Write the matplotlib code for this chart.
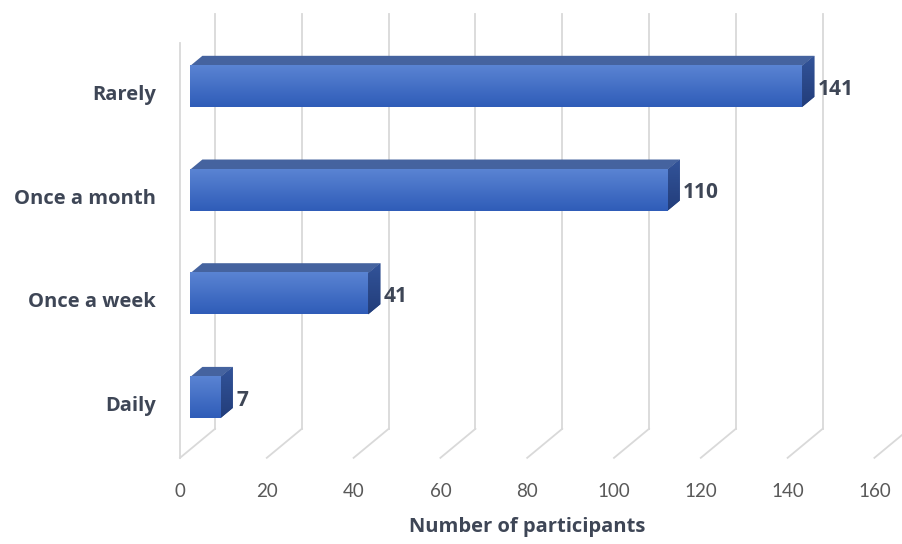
import numpy as np
import matplotlib
matplotlib.use("Agg")
import matplotlib.pyplot as plt
from matplotlib.patches import Polygon
from matplotlib.colors import LinearSegmentedColormap

# ---- data -------------------------------------------------------------
categories = ["Daily", "Once a week", "Once a month", "Rarely"]
participants = [7, 41, 110, 141]
x_ticks = [0, 20, 40, 60, 80, 100, 120, 140, 160]
x_title = "Number of participants"

# ---- layout (pixels) --------------------------------------------------
W, H = 902, 544
PX_PER_VALUE = 4.34      # horizontal pixels per participant
PX_PER_CAT = 103.7       # vertical pixels between category slots
ORIGIN_X = 180           # pixel column of value 0 on the front plane
ORIGIN_Y = 406           # pixel row of the first category on the front plane
DEPTH_PX = (35.0, 29.0)  # oblique shift from front plane to back wall
BAR_D0, BAR_D1 = 0.29, 0.64   # bar front / back depth (fraction of wall depth)
BAR_HALF = 0.198              # half bar height in category units

TEXT = "#3e4656"
TICK = "#595959"
GRID = "#d9d9d9"
BOLD_FONT = ["Open Sans", "DejaVu Sans"]

plt.rcParams["font.family"] = ["Lato", "DejaVu Sans"]

fig = plt.figure(figsize=(W / 100, H / 100), dpi=100)
ax = fig.add_axes([0, 0, 1, 1])
ax.set_xlim(-ORIGIN_X / PX_PER_VALUE, (W - ORIGIN_X) / PX_PER_VALUE)
ax.set_ylim((ORIGIN_Y - H) / PX_PER_CAT, ORIGIN_Y / PX_PER_CAT)
ax.axis("off")

DX = DEPTH_PX[0] / PX_PER_VALUE
DY = DEPTH_PX[1] / PX_PER_CAT


def proj(x, y, d):
    """Oblique projection of (value, category, depth) onto the front plane."""
    return (x + d * DX, y + d * DY)


y_lo, y_hi = -0.5, len(categories) - 0.5

# ---- walls and gridlines ---------------------------------------------
# left side wall front edge
ax.plot(*zip(proj(0, y_lo, 0), proj(0, y_hi, 0)), color=GRID, lw=1.3, zorder=1)
for t in x_ticks:
    # back wall vertical gridline
    ax.plot(*zip(proj(t, y_lo, 1), proj(t, y_hi, 1)), color=GRID, lw=1.3,
            zorder=1, clip_on=True)
    # floor gridline running from back wall to front
    ax.plot(*zip(proj(t, y_lo, 0), proj(t, y_lo, 1)), color=GRID, lw=1.3,
            zorder=1, clip_on=True)

# ---- bars -------------------------------------------------------------
front_cmap = LinearSegmentedColormap.from_list("front", ["#2f5cb8", "#5a84d3"])
side_cmap = LinearSegmentedColormap.from_list("side", ["#223d7a", "#33549a"])
grad = np.linspace(0, 1, 256).reshape(-1, 1)

for i, (cat, v) in enumerate(zip(categories, participants)):
    yb, yt = i - BAR_HALF, i + BAR_HALF

    # top face
    top = Polygon([proj(0, yt, BAR_D0), proj(v, yt, BAR_D0),
                   proj(v, yt, BAR_D1), proj(0, yt, BAR_D1)],
                  closed=True, facecolor="#45639f", edgecolor="none", zorder=3)
    ax.add_patch(top)

    # right side face
    side = Polygon([proj(v, yb, BAR_D0), proj(v, yt, BAR_D0),
                    proj(v, yt, BAR_D1), proj(v, yb, BAR_D1)],
                   closed=True, facecolor="#2a4787", edgecolor="none", zorder=3)
    ax.add_patch(side)
    im = ax.imshow(grad, cmap=side_cmap, origin="lower", aspect="auto",
                   extent=(proj(v, 0, BAR_D0)[0], proj(v, 0, BAR_D1)[0],
                           yb + BAR_D0 * DY, yt + BAR_D1 * DY),
                   zorder=3, interpolation="bilinear")
    im.set_clip_path(side)

    # front face with vertical gradient
    x0, y0 = proj(0, yb, BAR_D0)
    x1, y1 = proj(v, yt, BAR_D0)
    ax.imshow(grad, cmap=front_cmap, origin="lower", aspect="auto",
              extent=(x0, x1, y0, y1), zorder=4, interpolation="bilinear")

    # value label beside the bar end
    lx, ly = proj(v, i, BAR_D1)
    ax.annotate(str(v), xy=(lx, i + BAR_D0 * DY), xytext=(2.5, -2),
                textcoords="offset points", ha="left", va="center",
                fontsize=15, fontweight="bold", color=TEXT, zorder=5,
                family=BOLD_FONT)

    # category label on the left
    ax.annotate(cat, xy=(0, i), xytext=(-17.5, 0), textcoords="offset points",
                ha="right", va="center", fontsize=14.5, fontweight="bold",
                color=TEXT, family=BOLD_FONT)

# ---- value axis ticks and title --------------------------------------
for t in x_ticks:
    ax.annotate(str(t), xy=(t, y_lo), xytext=(0, -24), textcoords="offset points",
                ha="center", va="center", fontsize=13.5, color=TICK)

ax.annotate(x_title, xy=((x_ticks[0] + x_ticks[-1]) / 2, y_lo), xytext=(0, -50),
            textcoords="offset points", ha="center", va="center",
            fontsize=14.5, fontweight="bold", color=TEXT, family=BOLD_FONT)

fig.savefig("out.png", dpi=100)
